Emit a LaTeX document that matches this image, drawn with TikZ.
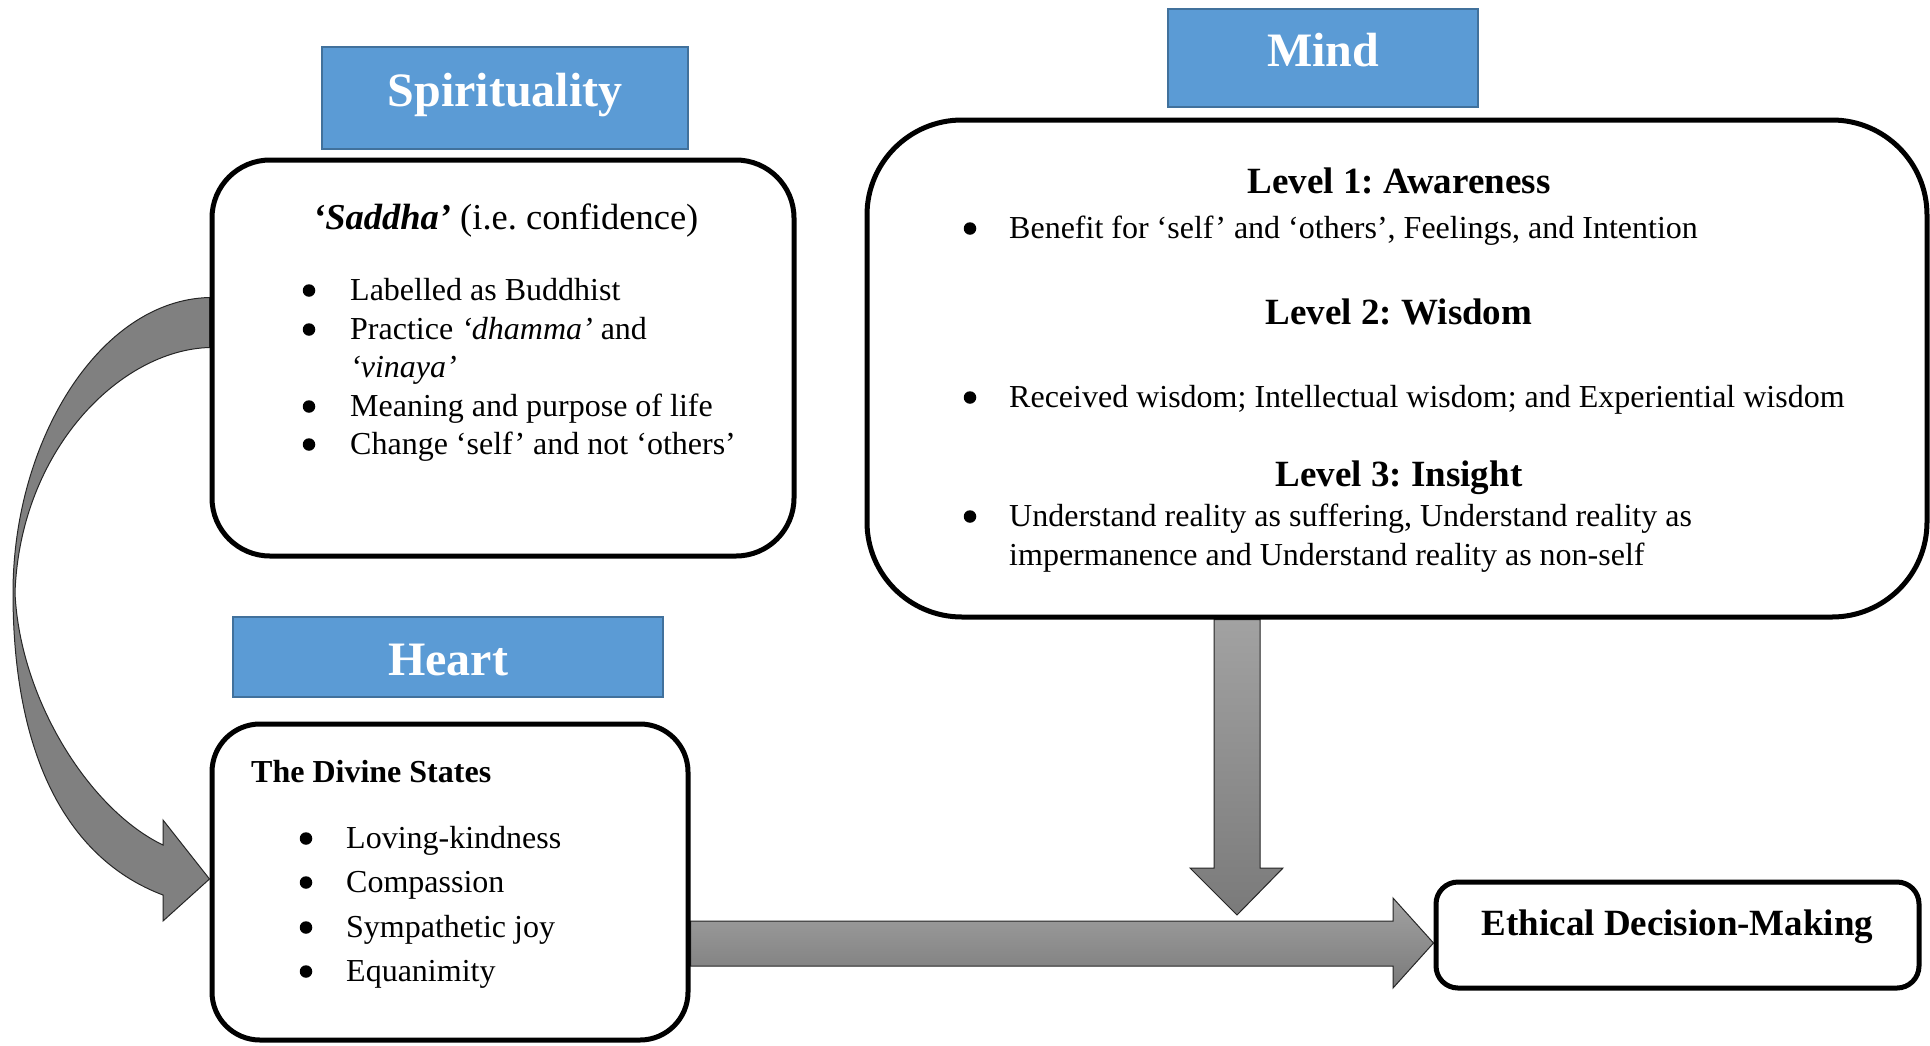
\documentclass[tikz,border=0pt]{standalone}
\usepackage{fontspec}
\setmainfont{Liberation Serif}
\usepackage{tikz}
\usetikzlibrary{positioning, calc, backgrounds}
\definecolor{headfill}{RGB}{91, 155, 213}
\definecolor{headline}{RGB}{65, 113, 156}
\definecolor{arrowtop}{RGB}{162, 162, 162}
\definecolor{arrowbottom}{RGB}{122, 122, 122}
\frenchspacing

\begin{document}
\begin{tikzpicture}[
    x=1pt, y=-1pt,
    header/.style={rectangle, draw=headline, line width=2pt, fill=headfill, text=white, inner sep=0pt, font=\fontsize{48}{58}\selectfont\bfseries},
    box/.style={rectangle, draw, line width=5pt, fill=white, inner sep=0pt},
    body/.style={anchor=base west, inner sep=0pt, font=\fontsize{32}{38}\selectfont},
    dot/.style={circle, fill=black, inner sep=0pt, minimum size=12.5pt, yshift=9.5pt},
    level/.style={anchor=base, inner sep=0pt, font=\fontsize{37}{44}\selectfont\bfseries},
    blockarrow/.style={draw=black!85, line width=1pt, top color=arrowtop, bottom color=arrowbottom}
]
\useasboundingbox (0,0) rectangle (1930,1045);

% Headers
\node[header, minimum width=366, text height=59, text depth=43] (spirithead) at (505,98) {Spirituality};
\node[header, minimum width=310, text height=57, text depth=41] (mindhead) at (1323,58) {Mind};
\node[header, minimum width=430, text height=58, text depth=22] (hearthead) at (448,657) {Heart};

% Boxes
\node[box, minimum width=582, minimum height=396, rounded corners=58] (spirit) at (503,358) {};
\node[box, minimum width=1060, minimum height=497, rounded corners=95] (mind) at (1397,368.5) {};
\node[box, minimum width=476, minimum height=316, rounded corners=48] (heart) at (450,882) {};
\node[box, minimum width=483, minimum height=106, rounded corners=22, text height=25, text depth=25,
    font=\fontsize{37}{44}\selectfont\bfseries] (decision) at (1677.5,935) {Ethical Decision-Making};

% Block arrows
\begin{scope}[on background layer]
\draw[blockarrow, top color=gray, bottom color=gray] ($(spirit.north west)+(0,140)$)
    .. controls (100,300) and (13,440) .. (13,593)
    .. controls (13,760) and (70,860) .. (163,895)
    -- (163,921) -- ($(heart.west)+(0,-3)$) -- (163,820) -- (163,845)
    .. controls (90,810) and (20,700) .. (15,593)
    .. controls (20,450) and (120,350) .. ($(spirit.north west)+(0,190)$) -- cycle;
\draw[blockarrow] (mind.south -| 1214,0) -- (1214,868) -- (1190,868) -- (1237,915)
    -- (1283,868) -- (1260,868) -- (mind.south -| 1260,0) -- cycle;
\draw[blockarrow] (heart.east |- 0,921) -- (1393,921) -- (1393,898) -- (decision.west |- 0,943)
    -- (1393,988) -- (1393,966) -- (heart.east |- 0,966) -- cycle;
\end{scope}

% Spirituality
\node[anchor=base west, inner sep=0pt, font=\fontsize{36.5}{44}\selectfont] (saddha) at (313,229) {\textbf{\textit{‘Saddha’}} (i.e. confidence)};
\node[dot] at (309,300) {};
\node[body] (s1) at (350,300) {Labelled as Buddhist};
\node[dot] at (309,339) {};
\node[body] (s2) at (350,339) {Practice \textit{‘dhamma’} and};
\node[body] (s2b) at (350,377) {\textit{‘vinaya’}};
\node[dot] at (309,416) {};
\node[body] (s3) at (350,416) {Meaning and purpose of life};
\node[dot] at (309,454) {};
\node[body] (s4) at (350,454) {Change ‘self’ and not ‘others’};

% Mind
\node[level] (lev1) at (1399,193) {Level 1: Awareness};
\node[dot] at (970,238) {};
\node[body] (m1) at (1009,238) {Benefit for ‘self’ and ‘others’, Feelings, and Intention};
\node[level] (lev2) at (1399,324) {Level 2: Wisdom};
\node[dot] at (970,407) {};
\node[body] (m2) at (1009,407) {Received wisdom; Intellectual wisdom; and Experiential wisdom};
\node[level] (lev3) at (1399,486) {Level 3: Insight};
\node[dot] at (970,526) {};
\node[body] (m3) at (1009,526) {Understand reality as suffering, Understand reality as};
\node[body] (m3b) at (1009,565) {impermanence and Understand reality as non-self};

% Heart
\node[body, font=\fontsize{32}{38}\selectfont\bfseries] (divine) at (251,782) {The Divine States};
\node[dot] at (306,848) {};
\node[body] (h1) at (346,848) {Loving-kindness};
\node[dot] at (306,892) {};
\node[body] (h2) at (346,892) {Compassion};
\node[dot] at (306,937) {};
\node[body] (h3) at (346,937) {Sympathetic joy};
\node[dot] at (306,981) {};
\node[body] (h4) at (346,981) {Equanimity};

\end{tikzpicture}
\end{document}
